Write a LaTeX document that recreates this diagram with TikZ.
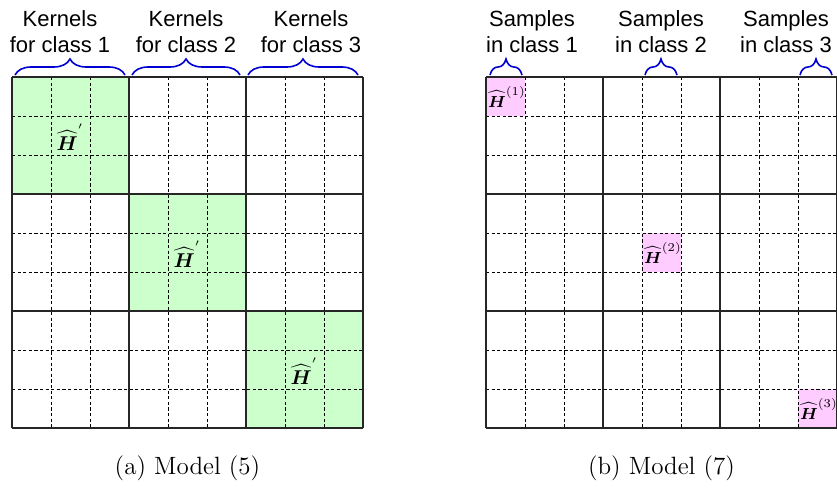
\documentclass[tikz,border=0pt]{standalone}
\usepackage{amsmath,amssymb}
\usepackage{fontspec}
\newfontfamily\labelfont{Liberation Sans}
\usetikzlibrary{decorations.pathreplacing}
\definecolor{kernelgreen}{RGB}{204,255,204}
\definecolor{samplepink}{RGB}{255,204,255}
\definecolor{braceblue}{RGB}{0,0,210}
\newcommand{\Hhat}{\widehat{\boldsymbol{H}}}

\begin{document}
\begin{tikzpicture}[
  x=0.5pt, y=-0.5pt,
  every node/.style={inner sep=0pt},
  head/.style={font=\labelfont\fontsize{11}{13}\selectfont, align=center},
  caption/.style={font=\fontsize{12.5}{15}\selectfont},
  kernelcell/.style={fill=kernelgreen},
  samplecell/.style={fill=samplepink},
  fine/.style={dash pattern=on 1.6pt off 1.2pt, line width=0.4pt},
  coarse/.style={line width=0.7pt, draw=black!85},
  brace/.style={draw=braceblue, line width=0.8pt, decorate, decoration={brace, amplitude=8pt}}
]
\useasboundingbox (0,0) rectangle (837,496);

\foreach \i in {0,1,2}
  \fill[kernelcell] ({12+117*\i},{77+117*\i}) rectangle +(117,117);
\foreach \i in {0,4,8}
  \fill[samplecell] ({486+39*\i},{77+39*\i}) rectangle +(39,39);

\foreach \ox in {12,486} {
  \foreach \k in {1,2,4,5,7,8} {
    \draw[fine] ({\ox+39*\k},77) -- ({\ox+39*\k},428);
    \draw[fine] (\ox,{77+39*\k}) -- ({\ox+351},{77+39*\k});
  }
  \foreach \k in {0,3,6,9} {
    \draw[coarse] ({\ox+39*\k},77) -- ({\ox+39*\k},428);
    \draw[coarse] (\ox,{77+39*\k}) -- ({\ox+351},{77+39*\k});
  }
}

\foreach \a/\b in {15/125,132/240,248/358}
  \draw[brace] (\a,75) -- (\b,75);
\foreach \a/\b in {490/522,645/677,800/832}
  \draw[brace] (\a,75) -- (\b,75);

\node[head] (kern1) at (60,32) {Kernels\\for class 1};
\node[head] (kern2) at (186,32) {Kernels\\for class 2};
\node[head] (kern3) at (311,32) {Kernels\\for class 3};
\node[head] (samp1) at (532,32) {Samples\\in class 1};
\node[head] (samp2) at (661,32) {Samples\\in class 2};
\node[head] (samp3) at (786,32) {Samples\\in class 3};

\node (hk1) at (70.5,137) {$\Hhat^{'}$};
\node (hk2) at (187.5,254) {$\Hhat^{'}$};
\node (hk3) at (304.5,371) {$\Hhat^{'}$};

\node[font=\footnotesize] (hs1) at (507,97) {$\Hhat^{(1)}$};
\node[font=\footnotesize] (hs2) at (663,253) {$\Hhat^{(2)}$};
\node[font=\footnotesize] (hs3) at (819,409) {$\Hhat^{(3)}$};

\node[caption] (capA) at (187.5,468) {(a) Model (5)};
\node[caption] (capB) at (661.5,468) {(b) Model (7)};
\end{tikzpicture}
\end{document}
